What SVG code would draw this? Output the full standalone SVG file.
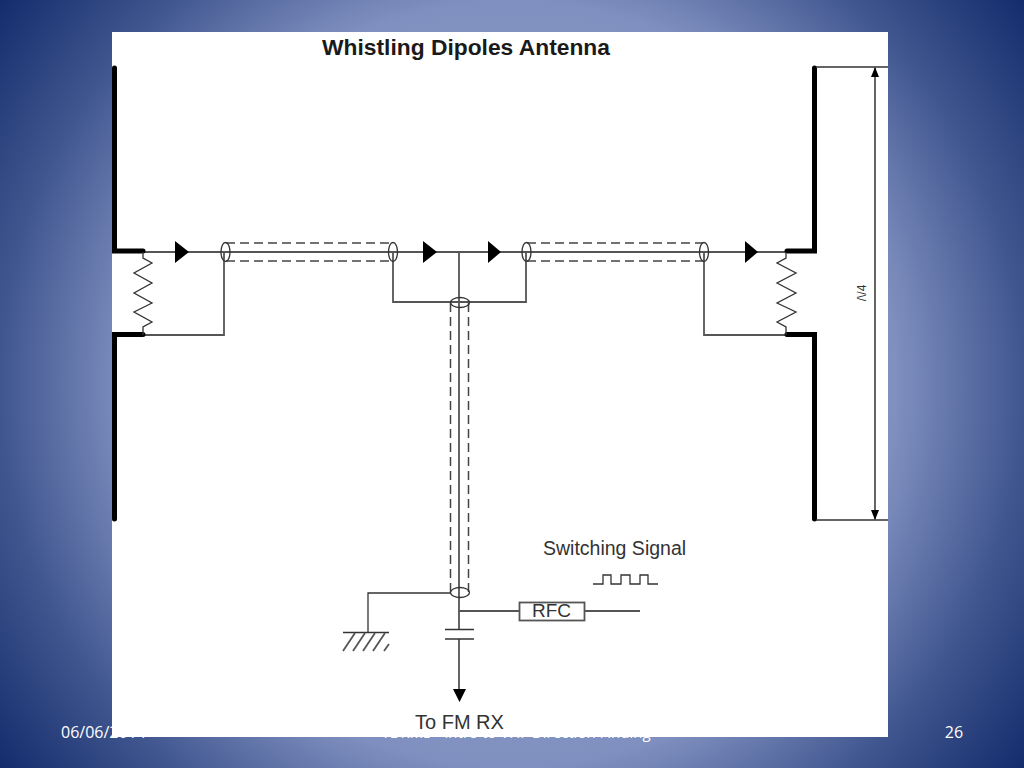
<svg xmlns="http://www.w3.org/2000/svg" width="1024" height="768" viewBox="0 0 1024 768">
<defs>
<radialGradient id="bg" gradientUnits="userSpaceOnUse" cx="512" cy="384" r="640">
<stop offset="0" stop-color="#a0aed2"/><stop offset="0.6" stop-color="#7f8fbf"/><stop offset="0.8" stop-color="#40568f"/><stop offset="1" stop-color="#132c6c"/>
</radialGradient>
<style>
.foot{font-family:"Open Sans","Liberation Sans",sans-serif;fill:#fff}
.t{font-family:"Liberation Sans",sans-serif;fill:#333}
.w{fill:none;stroke:#555;stroke-width:1.8}
.n{fill:none;stroke:#333;stroke-width:1.3}
.d{fill:none;stroke:#444;stroke-width:1.5;stroke-dasharray:9 5}
.h{fill:none;stroke:#000;stroke-width:5;stroke-linecap:round}
.a{fill:#000}
</style>
</defs>
<rect id="background" width="1024" height="768" fill="url(#bg)"/>
<g id="footer">
<text class="foot" x="61" y="738" font-size="16">06/06/2014</text>
<text class="foot" x="516" y="738" font-size="15" text-anchor="middle">TDRMS - Intro to VHF Direction Finding</text>
<text class="foot" x="954" y="738" font-size="16" text-anchor="middle">26</text>
</g>
<rect id="sheet" x="112" y="32" width="776" height="705" fill="#fff"/>
<text id="title" class="t" x="466" y="55" text-anchor="middle" font-size="22.800" font-weight="bold" style="fill:#1a1a1a">Whistling Dipoles Antenna</text>
<g id="connectors">
<path class="w" d="M143 252H786M459 252V592M224 252V335H143M393 252V302H526V252M704 252V335H786"/>
<path class="w" d="M459 592V690M459 611H519M584 611H640"/>
<path class="n" d="M368 633V593H451"/>
<path class="d" d="M226 243H392M226 261H392M527 243H703M527 261H703M450.500 303V592M468.500 303V592"/>
<path class="h" d="M114.500 68V251H143M114.500 519V334.500H143M814.500 68V251H787M814.500 519V334.500H787"/>
<path class="n" d="M143 252V258L152 263L134 273L152 283L134 293L152 303L134 312L152 322L143 327V335"/>
<path class="n" d="M786 252V258L777 263L796 273L777 283L796 293L777 303L796 312L777 322L786 327V335"/>
<path class="n" d="M816 67H888M816 520H888"/>
<path class="w" d="M875 68V519"/>
<path class="a" d="M875 67L871 77H879ZM875 520L871 510H879Z"/>
<path class="a" d="M175 241L189 252L175 263ZM423 241L437 252L423 263ZM488 241L501 252L488 263ZM745 241L758 252L745 263ZM453 689H466L459.500 702Z"/>
</g>
<g id="couplers" fill="none" stroke="#333" stroke-width="1.300">
<ellipse cx="225.500" cy="252" rx="4.500" ry="9.500"/>
<ellipse cx="393" cy="252" rx="4.500" ry="9.500"/>
<ellipse cx="526.500" cy="252" rx="4.500" ry="9.500"/>
<ellipse cx="704" cy="252" rx="4.500" ry="9.500"/>
<ellipse cx="460" cy="302.500" rx="9.500" ry="5"/>
<ellipse cx="460" cy="592.500" rx="9.500" ry="5"/>
</g>
<g id="capacitor"><rect x="456" y="630" width="7" height="9" fill="#fff"/><path class="n" d="M445 629.500H474M445 639H474"/></g>
<g id="ground">
<path class="n" d="M343 632.500H389"/>
<path d="M343 651L355 633M353 651L365 633M363 651L375 633M373 651L385 633M384 651L389 644" fill="none" stroke="#555" stroke-width="1.800"/>
</g>
<g id="rfc"><rect x="519.500" y="602.500" width="65" height="18" fill="#fff" stroke="#555" stroke-width="1.800"/><text class="t" x="551.500" y="617" text-anchor="middle" font-size="19">RFC</text></g>
<g id="signal"><path class="n" d="M593 584H603V575H611V584H621V575H630V584H640V575H648V584H658"/></g>
<text id="switching" class="t" x="543" y="555" font-size="19.500">Switching Signal</text>
<text id="tofm" class="t" x="415" y="729" font-size="20">To FM RX</text>
<text id="lambda" class="t" transform="translate(866 293) rotate(-90)" text-anchor="middle" font-size="12">/\/4</text>
</svg>
